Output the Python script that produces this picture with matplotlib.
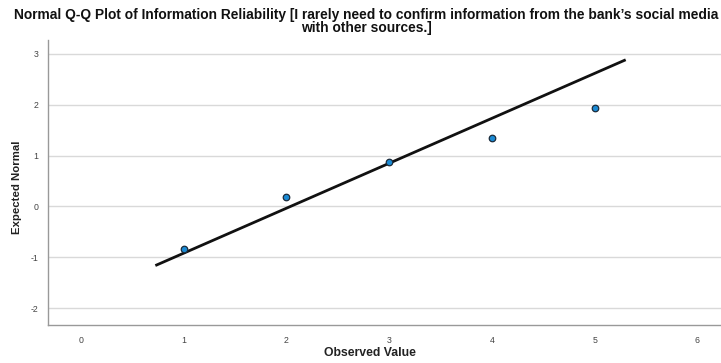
import matplotlib
matplotlib.use('Agg')
import matplotlib.pyplot as plt

plt.rcParams['font.family'] = ['Liberation Sans', 'DejaVu Sans']
plt.rcParams['axes.unicode_minus'] = False

# observed values and their expected normal scores
observed = [1, 2, 3, 4, 5]
expected = [-0.83, 0.19, 0.88, 1.35, 1.93]
# reference line: y = (x - mean) / sd
line_mean = 2.04
line_sd = 1.132
line_x = [0.737, 5.29]
xticks = [0, 1, 2, 3, 4, 5, 6]
yticks = [-2, -1, 0, 1, 2, 3]

fig = plt.figure(figsize=(7.21, 3.63), dpi=100)
ax = fig.add_axes([0.0666, 0.1047, 0.9334, 0.785])

line_y = [(x - line_mean) / line_sd for x in line_x]
ax.plot(line_x, line_y, color='#111111', lw=2.0, zorder=3)
ax.scatter(observed, expected, s=22, facecolor='#1a8ad4', edgecolor='#1a2a3a',
           linewidth=0.9, zorder=4)

ax.set_xlim(-0.32, 6.23)
ax.set_ylim(-2.33, 3.27)
ax.set_xticks(xticks)
ax.set_yticks(yticks)
ax.grid(axis='y', color='#d9d9d9', lw=1.0)
ax.set_axisbelow(True)
ax.tick_params(length=0, labelsize=6.3, labelcolor='#444444')
ax.tick_params(axis='x', pad=8)
ax.tick_params(axis='y', pad=7)
for s in ['top', 'right']:
    ax.spines[s].set_visible(False)
for s in ['left', 'bottom']:
    ax.spines[s].set_color('#999999')
    ax.spines[s].set_linewidth(1.0)

fig.text(370 / 721, 1 - 353 / 363, 'Observed Value', fontsize=8.8, fontweight='bold',
         color='#222222', ha='center', va='center')
fig.text(0.023, 1 - 187 / 363, 'Expected Normal', rotation=90, fontsize=8.2, color='#222222',
         ha='center', va='center', fontweight='bold')

fig.text(366 / 721, 1 - 8 / 363,
         'Normal Q-Q Plot of Information Reliability [I rarely need to confirm information from the bank\u2019s social media\nwith other sources.]',
         ha='center', va='top', fontsize=9.9, fontweight='bold', color='#111111', linespacing=0.95)

fig.savefig('out.png', dpi=100)
